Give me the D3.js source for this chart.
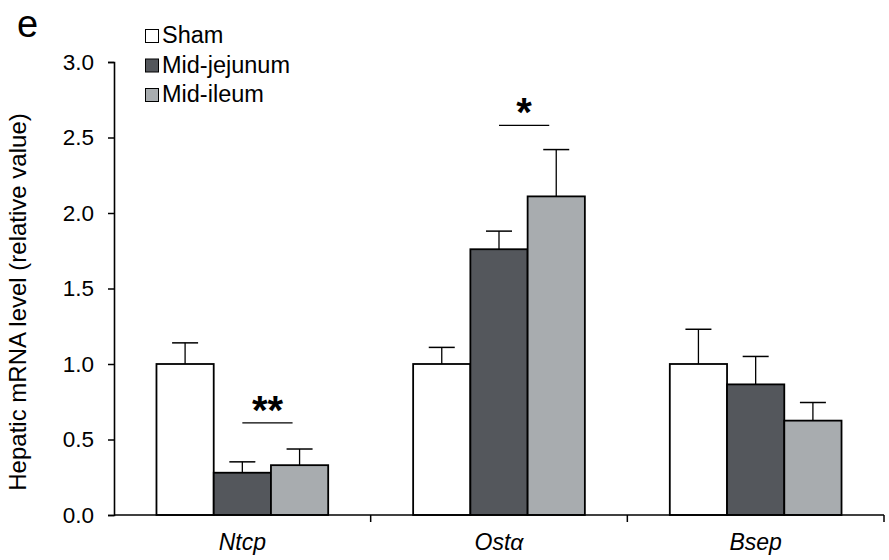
<!DOCTYPE html>
<html><head><meta charset="utf-8">
<script src="https://cdn.jsdelivr.net/npm/d3@7"></script>
<style>body{margin:0;background:#fff}svg{display:block;font-family:"Liberation Sans",Arial,sans-serif}</style>
</head><body><svg id="c" width="889" height="560"></svg>
<script>
const categories = ["Ntcp", "Ostα", "Bsep"];
const seriesNames = ["Sham", "Mid-jejunum", "Mid-ileum"];
const seriesColors = ["#ffffff", "#54575c", "#a8acaf"];
const shamValues = [1.0, 1.0, 1.0];
const shamErrors = [0.14, 0.11, 0.23];
const jejunumValues = [0.28, 1.76, 0.865];
const jejunumErrors = [0.072, 0.12, 0.185];
const ileumValues = [0.33, 2.11, 0.625];
const ileumErrors = [0.107, 0.31, 0.12];
const yTicks = [0, 0.5, 1.0, 1.5, 2.0, 2.5, 3.0];
const significance = [{cat: "Ntcp", label: "**", y: 0.61}, {cat: "Ostα", label: "*", y: 2.58}];

const values = [shamValues, jejunumValues, ileumValues];
const errors = [shamErrors, jejunumErrors, ileumErrors];

const svg = d3.select("#c");
const mLeft = 114, mRight = 884, mTop = 62, mBottom = 515;
const x = d3.scaleBand().domain(categories).range([mLeft, mRight]).paddingInner(0).paddingOuter(0);
const inner = d3.scaleBand().domain(seriesNames).range([0, x.bandwidth()]).paddingInner(0).paddingOuter(0.742);
const y = d3.scaleLinear().domain([0, 3]).range([mBottom, mTop]);
const bw = inner.bandwidth();
function barX(ci, si) { return x(categories[ci]) + inner(seriesNames[si]); }

// bars
seriesNames.forEach((s, si) => {
  categories.forEach((c, ci) => {
    const v = values[si][ci], e = errors[si][ci];
    const bx = barX(ci, si);
    const cx = bx + bw / 2;
    svg.append("line").attr("x1", cx).attr("x2", cx).attr("y1", y(v)).attr("y2", y(v + e))
      .attr("stroke", "#000").attr("stroke-width", 1.3);
    svg.append("line").attr("x1", cx - 13).attr("x2", cx + 13).attr("y1", y(v + e)).attr("y2", y(v + e))
      .attr("stroke", "#000").attr("stroke-width", 1.5);
    svg.append("rect").attr("x", bx).attr("y", y(v)).attr("width", bw).attr("height", y(0) - y(v))
      .attr("fill", seriesColors[si]).attr("stroke", "#000").attr("stroke-width", 1.8);
  });
});

// y axis
const yAxis = d3.axisLeft(y).tickValues(yTicks).tickFormat(d3.format(".1f")).tickSizeOuter(0).tickSize(6).tickPadding(14);
const ya = svg.append("g").attr("transform", `translate(${mLeft},0)`).call(yAxis);
ya.select(".domain").attr("stroke", "#000").attr("stroke-width", 1.6);
ya.selectAll(".tick line").attr("stroke", "#000").attr("stroke-width", 1.5);
ya.selectAll(".tick text").attr("font-size", 22.5).attr("fill", "#000").attr("font-family", "Liberation Sans, Arial, sans-serif");

// x axis
const xa = svg.append("g").attr("transform", `translate(0,${mBottom})`);
xa.append("line").attr("x1", mLeft).attr("x2", mRight).attr("stroke", "#000").attr("stroke-width", 1.6);
const bounds = [x(categories[1]), x(categories[2]), mRight];
xa.selectAll("line.tk").data(bounds).join("line").attr("class", "tk")
  .attr("x1", d => d).attr("x2", d => d).attr("y1", 0).attr("y2", 7).attr("stroke", "#000").attr("stroke-width", 1.5);
xa.selectAll("text").data(categories).join("text")
  .attr("x", d => x(d) + x.bandwidth() / 2).attr("y", 35)
  .attr("text-anchor", "middle").attr("font-size", 23).attr("font-style", "italic").text(d => d);

// y label
svg.append("text").attr("transform", "translate(26,302) rotate(-90)").attr("text-anchor", "middle")
  .attr("font-size", 24).text("Hepatic mRNA level (relative value)");

// panel letter
svg.append("text").attr("x", 17).attr("y", 37).attr("font-size", 38).text("e");

// legend
seriesNames.forEach((s, i) => {
  const ly = 43 + i * 29.5;
  svg.append("rect").attr("x", 145.5).attr("y", ly - 13.5).attr("width", 13).attr("height", 13)
    .attr("fill", seriesColors[i]).attr("stroke", "#000").attr("stroke-width", 1);
  svg.append("text").attr("x", 162).attr("y", ly).attr("font-size", 23.5).text(s);
});

// significance
significance.forEach(sg => {
  const ci = categories.indexOf(sg.cat);
  const x1 = barX(ci, 1) + bw / 2, x2 = barX(ci, 2) + bw / 2 - 7;
  svg.append("line").attr("x1", x1).attr("x2", x2).attr("y1", y(sg.y)).attr("y2", y(sg.y))
    .attr("stroke", "#000").attr("stroke-width", 1.3);
  svg.append("text").attr("x", (x1 + x2) / 2).attr("y", y(sg.y) + 1).attr("text-anchor", "middle")
    .attr("font-size", 40).attr("font-weight", "bold").text(sg.label);
});
</script></body></html>
